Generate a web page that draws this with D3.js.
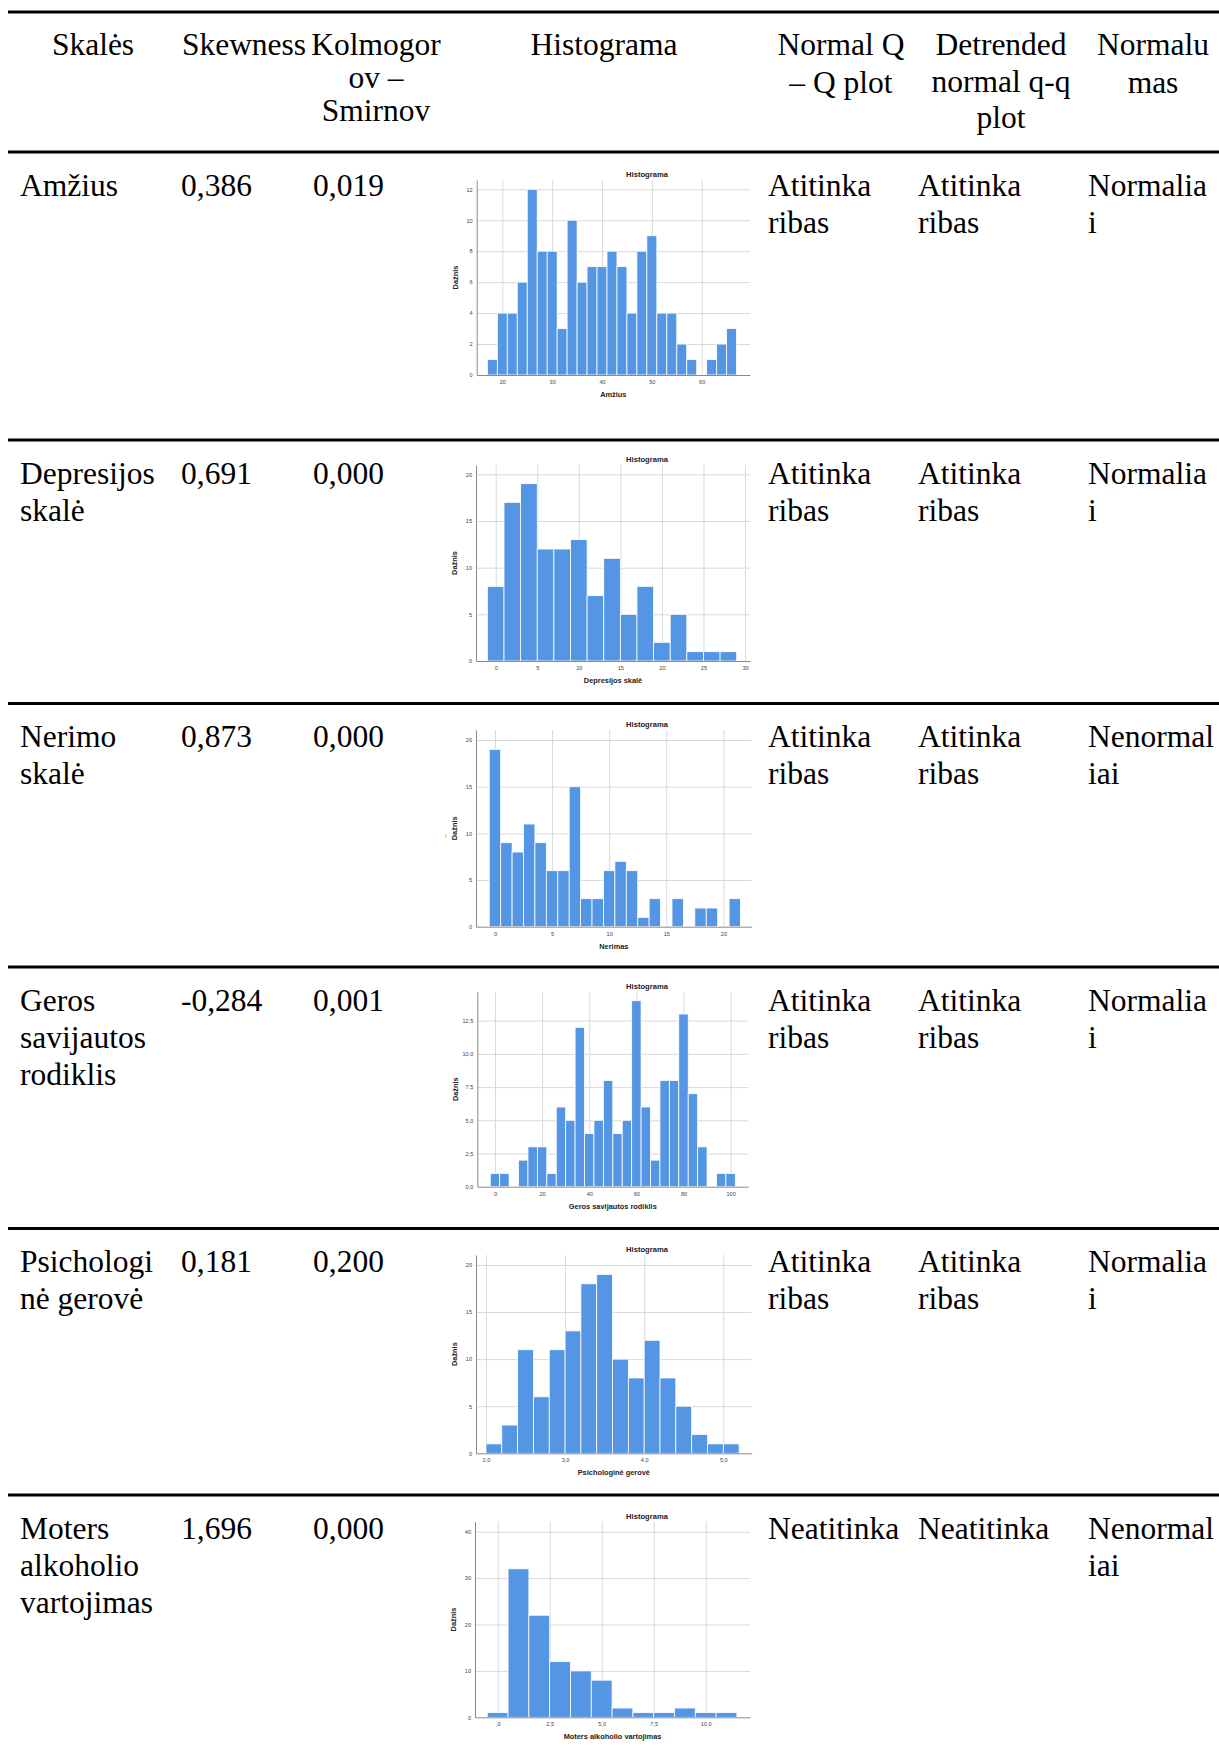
<!DOCTYPE html>
<html>
<head>
<meta charset="utf-8">
<script src="https://cdn.jsdelivr.net/npm/d3@7"></script>
<style>
  html, body { margin: 0; padding: 0; background: #ffffff; }
  svg { display: block; }
</style>
</head>
<body>
<svg id="chart" width="1219" height="1751"></svg>
<script>
// ---------------- DATA ----------------
const headerLabels = [
  ["Skalės"],
  ["Skewness"],
  ["Kolmogor", "ov –", "Smirnov"],
  ["Histograma"],
  ["Normal Q", "– Q plot"],
  ["Detrended", "normal q-q", "plot"],
  ["Normalu", "mas"]
];
const scaleNames = [
  ["Amžius"],
  ["Depresijos", "skalė"],
  ["Nerimo", "skalė"],
  ["Geros", "savijautos", "rodiklis"],
  ["Psichologi", "nė gerovė"],
  ["Moters", "alkoholio", "vartojimas"]
];
const skewness = ["0,386", "0,691", "0,873", "-0,284", "0,181", "1,696"];
const kolmogorovSmirnov = ["0,019", "0,000", "0,000", "0,001", "0,200", "0,000"];
const normalQQ = [
  ["Atitinka", "ribas"], ["Atitinka", "ribas"], ["Atitinka", "ribas"],
  ["Atitinka", "ribas"], ["Atitinka", "ribas"], ["Neatitinka"]
];
const detrendedQQ = [
  ["Atitinka", "ribas"], ["Atitinka", "ribas"], ["Atitinka", "ribas"],
  ["Atitinka", "ribas"], ["Atitinka", "ribas"], ["Neatitinka"]
];
const normality = [
  ["Normalia", "i"], ["Normalia", "i"], ["Nenormal", "iai"],
  ["Normalia", "i"], ["Normalia", "i"], ["Nenormal", "iai"]
];

const histTitle = "Histograma";
const histYLabel = "Dažnis";
const histXLabels = ["Amžius", "Depresijos skalė", "Nerimas", "Geros savijautos rodiklis", "Psichologinė gerovė", "Moters alkoholio vartojimas"];

// bin start, bin width, counts per bin
const amziusBinStart = 17, amziusBinWidth = 2;
const amziusCounts = [1,4,4,6,12,8,8,3,10,6,7,7,8,7,4,8,9,4,4,2,1,0,1,2,3];
const amziusXTicks = [20,30,40,50,60];
const amziusYTicks = [0,2,4,6,8,10,12];

const depresijaBinStart = -1, depresijaBinWidth = 2;
const depresijaCounts = [8,17,19,12,12,13,7,11,5,8,2,5,1,1,1];
const depresijaXTicks = [0,5,10,15,20,25,30];
const depresijaYTicks = [0,5,10,15,20];

const nerimasBinStart = -0.5, nerimasBinWidth = 1;
const nerimasCounts = [19,9,8,11,9,6,6,15,3,3,6,7,6,1,3,0,3,0,2,2,0,3];
const nerimasXTicks = [0,5,10,15,20];
const nerimasYTicks = [0,5,10,15,20];

const savijautaBinStart = -2, savijautaBinWidth = 4;
const savijautaCounts = [1,1,0,2,3,3,1,6,5,12,4,5,8,4,5,14,6,2,8,8,13,7,3,0,1,1];
const savijautaXTicks = [0,20,40,60,80,100];
const savijautaYTicks = [0,2.5,5,7.5,10,12.5];

const geroveBinStart = 2.0, geroveBinWidth = 0.2;
const geroveCounts = [1,3,11,6,11,13,18,19,10,8,12,8,5,2,1,1];
const geroveXTicks = [2,3,4,5];
const geroveYTicks = [0,5,10,15,20];

const alkoholisBinStart = -0.5, alkoholisBinWidth = 1;
const alkoholisCounts = [1,32,22,12,10,8,2,1,1,2,1,1];
const alkoholisXTicks = [0,2.5,5,7.5,10];
const alkoholisYTicks = [0,10,20,30,40];

// ---------------- LAYOUT ----------------
const svg = d3.select("#chart");
svg.append("rect").attr("width", 1219).attr("height", 1751).attr("fill", "#ffffff");

const serif = "'Liberation Serif', 'Times New Roman', serif";
const sans = "'Liberation Sans', Arial, sans-serif";
const fs = 31.5;
const headLh = [37, 37, 33, 37, 37.5, 36.5, 37.5];
const bodyLh = 37;

const rules = [12, 152, 440, 703.5, 967, 1228.5, 1495];
svg.selectAll("line.rule").data(rules).enter().append("line")
  .attr("class", "rule")
  .attr("x1", 8).attr("x2", 1219)
  .attr("y1", d => d).attr("y2", d => d)
  .attr("stroke", "#000").attr("stroke-width", 3.2);

// Header
const headerCenters = [93, 244, 376, 604, 841, 1001, 1153];
headerLabels.forEach((lines, c) => {
  lines.forEach((t, i) => {
    svg.append("text")
      .attr("x", headerCenters[c]).attr("y", 55 + i * headLh[c])
      .attr("text-anchor", "middle")
      .attr("font-family", serif).attr("font-size", fs)
      .attr("fill", "#000").text(t);
  });
});

// Body text
const colX = { name: 20, skew: 181, ks: 313, qq: 768, dqq: 918, norm: 1088 };
function putLines(lines, x, y0) {
  lines.forEach((t, i) => {
    svg.append("text")
      .attr("x", x).attr("y", y0 + i * bodyLh)
      .attr("font-family", serif).attr("font-size", fs)
      .attr("fill", "#000").text(t);
  });
}
scaleNames.forEach((nm, r) => {
  const base = rules[r + 1] + 43.5;
  putLines(nm, colX.name, base);
  putLines([skewness[r]], colX.skew, base);
  putLines([kolmogorovSmirnov[r]], colX.ks, base);
  putLines(normalQQ[r], colX.qq, base);
  putLines(detrendedQQ[r], colX.dqq, base);
  putLines(normality[r], colX.norm, base);
});

// ---------------- HISTOGRAMS ----------------
const fmtInt = d => String(d);
const fmtComma1 = d => d3.format(".1f")(d).replace(".", ",");
const fmtAlc = d => (d === 0 ? ",0" : d3.format(".1f")(d).replace(".", ","));

const hists = [
  { counts: amziusCounts, start: amziusBinStart, width: amziusBinWidth, xt: amziusXTicks, yt: amziusYTicks,
    left: 476.7, right: 750, top: 180, bottom: 375, xDom: [14.86, 69.69], yMax: 12.6, fx: fmtInt, fy: fmtInt },
  { counts: depresijaCounts, start: depresijaBinStart, width: depresijaBinWidth, xt: depresijaXTicks, yt: depresijaYTicks,
    left: 476, right: 750, top: 465, bottom: 661, xDom: [-2.37, 30.6], yMax: 21.0, fx: fmtInt, fy: fmtInt },
  { counts: nerimasCounts, start: nerimasBinStart, width: nerimasBinWidth, xt: nerimasXTicks, yt: nerimasYTicks,
    left: 476, right: 751.7, top: 730, bottom: 926.7, xDom: [-1.66, 22.48], yMax: 21.07, fx: fmtInt, fy: fmtInt },
  { counts: savijautaCounts, start: savijautaBinStart, width: savijautaBinWidth, xt: savijautaXTicks, yt: savijautaYTicks,
    left: 477.3, right: 748.3, top: 991.7, bottom: 1186.7, xDom: [-7.5, 107.5], yMax: 14.68, fx: fmtInt, fy: fmtComma1 },
  { counts: geroveCounts, start: geroveBinStart, width: geroveBinWidth, xt: geroveXTicks, yt: geroveYTicks,
    left: 476, right: 751.7, top: 1255, bottom: 1453.3, xDom: [1.874, 5.359], yMax: 21.06, fx: fmtComma1, fy: fmtInt },
  { counts: alkoholisCounts, start: alkoholisBinStart, width: alkoholisBinWidth, xt: alkoholisXTicks, yt: alkoholisYTicks,
    left: 475, right: 750, top: 1521.7, bottom: 1717.3, xDom: [-1.09, 12.13], yMax: 42.16, fx: fmtAlc, fy: fmtInt }
];

const gridColor = "#d9d9d9";
const axisColor = "#8a8a8a";
const barColor = "#5596e4";

hists.forEach((h, k) => {
  const x = d3.scaleLinear().domain(h.xDom).range([h.left, h.right]);
  const y = d3.scaleLinear().domain([0, h.yMax]).range([h.bottom, h.top]);
  const g = svg.append("g");

  // Grid + tick labels
  const ya = g.append("g").attr("transform", `translate(${h.left},0)`)
    .call(d3.axisLeft(y).tickValues(h.yt).tickFormat(h.fy)
      .tickSize(-(h.right - h.left)).tickSizeOuter(0).tickPadding(4));
  const xa = g.append("g").attr("transform", `translate(0,${h.bottom})`)
    .call(d3.axisBottom(x).tickValues(h.xt).tickFormat(h.fx)
      .tickSize(-(h.bottom - h.top)).tickSizeOuter(0).tickPadding(5));
  [ya, xa].forEach(a => {
    a.select(".domain").remove();
    a.selectAll(".tick line").attr("stroke", gridColor).attr("stroke-width", 1);
    a.selectAll(".tick text").attr("font-family", sans).attr("font-size", 5.6).attr("fill", "#444");
  });
  ya.selectAll(".tick line").filter(d => d === 0).remove();

  // Bars
  g.selectAll("rect.bar").data(h.counts).enter().append("rect")
    .attr("class", "bar")
    .attr("x", (d, i) => x(h.start + i * h.width))
    .attr("width", (d, i) => x(h.start + (i + 1) * h.width) - x(h.start + i * h.width))
    .attr("y", d => y(d))
    .attr("height", d => y(0) - y(d))
    .attr("fill", barColor)
    .attr("stroke", d => d > 0 ? "#ffffff" : "none")
    .attr("stroke-width", 0.8);

  // Axis lines
  g.append("g").attr("transform", `translate(${h.left},0)`)
    .call(d3.axisLeft(y).tickValues([]).tickSizeOuter(0))
    .select(".domain").attr("stroke", axisColor).attr("stroke-width", 1);
  g.append("g").attr("transform", `translate(0,${h.bottom})`)
    .call(d3.axisBottom(x).tickValues([]).tickSizeOuter(0))
    .select(".domain").attr("stroke", axisColor).attr("stroke-width", 1);

  // Title and labels
  g.append("text").attr("x", 647).attr("y", h.top - 3)
    .attr("text-anchor", "middle").attr("font-family", sans)
    .attr("font-size", 7.6).attr("font-weight", "bold").attr("fill", "#222")
    .text(histTitle);
  g.append("text").attr("x", (h.left + h.right) / 2).attr("y", h.bottom + 22)
    .attr("text-anchor", "middle").attr("font-family", sans)
    .attr("font-size", 7.4).attr("font-weight", "bold").attr("fill", "#222")
    .text(histXLabels[k]);
  g.append("text")
    .attr("transform", `translate(${h.left - 19},${(h.top + h.bottom) / 2}) rotate(-90)`)
    .attr("text-anchor", "middle").attr("font-family", sans)
    .attr("font-size", 7.4).attr("font-weight", "bold").attr("fill", "#222")
    .text(histYLabel);
});

// small yellow mark next to the third histogram
svg.append("rect").attr("x", 445).attr("y", 834).attr("width", 1.6).attr("height", 3.6).attr("fill", "#f3d36b");
</script>
</body>
</html>
